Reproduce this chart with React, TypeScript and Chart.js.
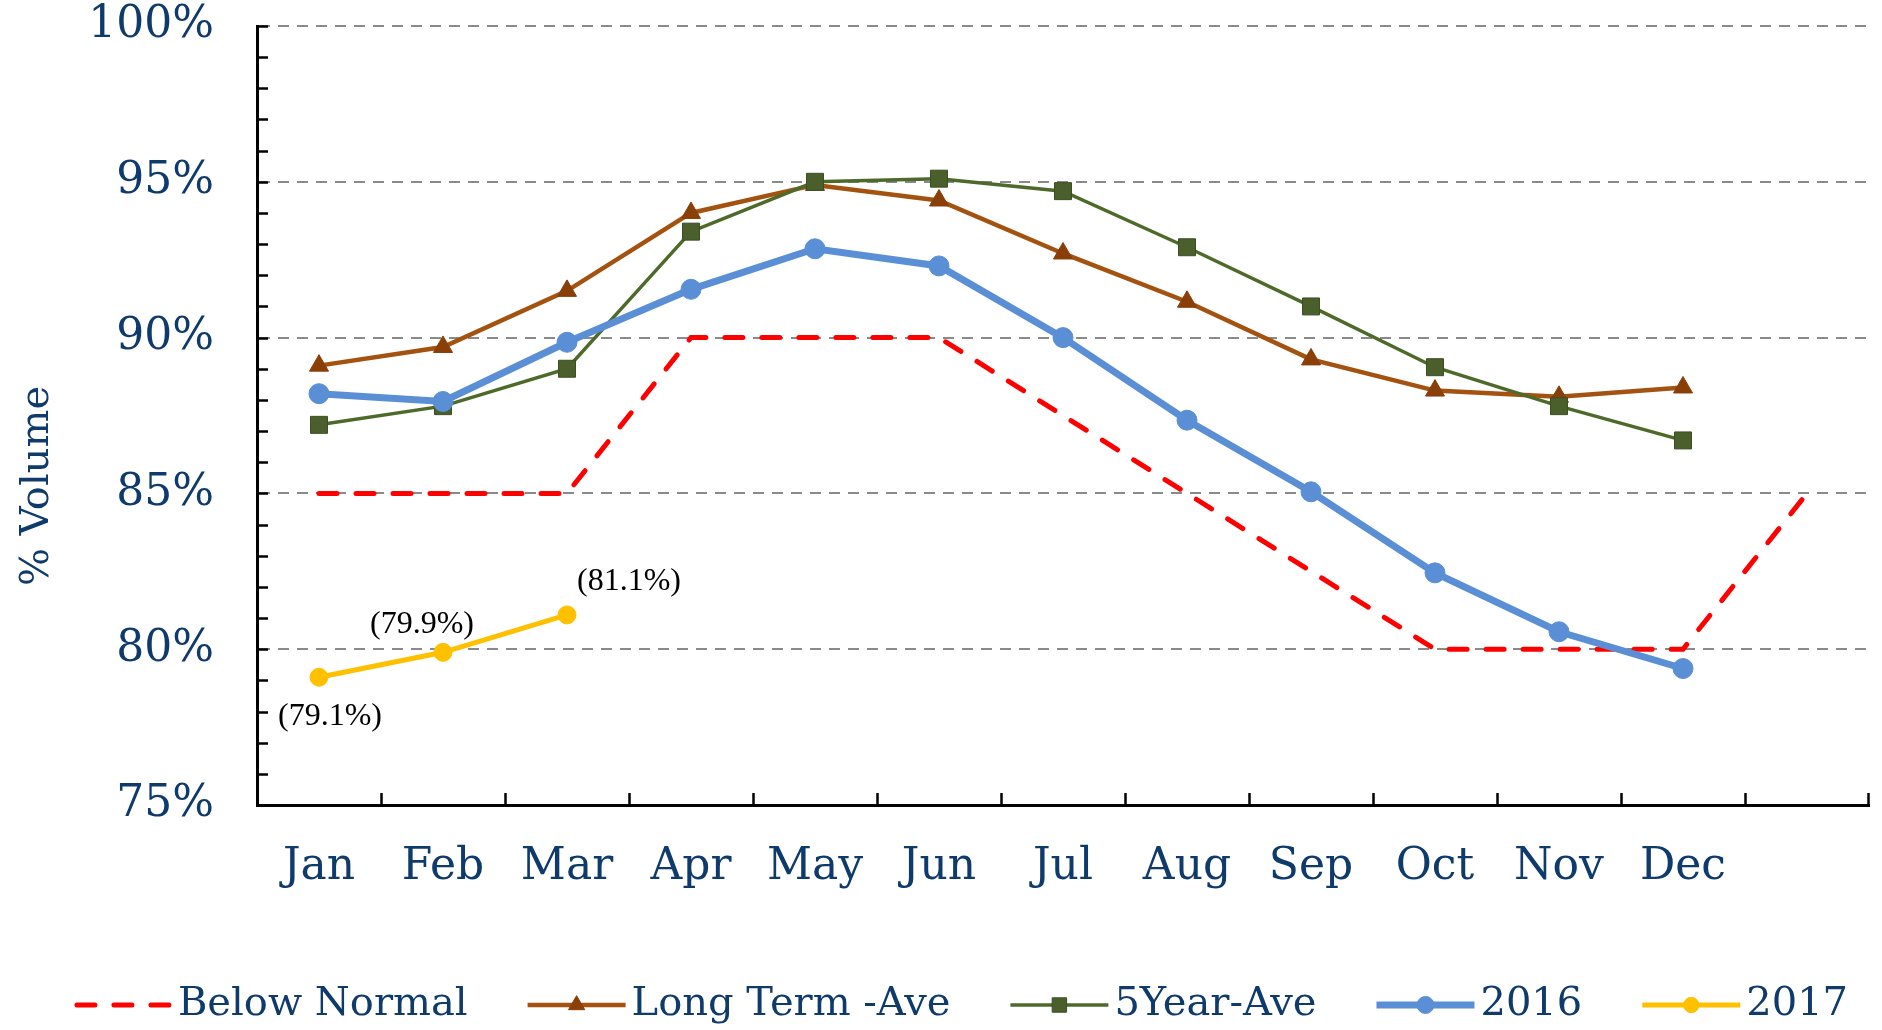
import React, { useEffect, useRef } from 'react';
import { Chart, registerables } from 'chart.js';
import { drawPoint } from 'chart.js/helpers';

Chart.register(...registerables);

const W = 1882;
const H = 1030;

const months = ['Jan', 'Feb', 'Mar', 'Apr', 'May', 'Jun', 'Jul', 'Aug', 'Sep', 'Oct', 'Nov', 'Dec', ''];
const belowNormal = [85, 85, 85, 90, 90, 90, 87.5, 85, 82.5, 80, 80, 80, 85];
const longTermAve = [89.1, 89.7, 91.5, 94.0, 94.9, 94.4, 92.7, 91.15, 89.3, 88.3, 88.1, 88.4];
const fiveYearAve = [87.2, 87.8, 89.0, 93.4, 95.0, 95.1, 94.7, 92.9, 91.0, 89.05, 87.8, 86.7];
const y2016 = [88.2, 87.95, 89.85, 91.55, 92.85, 92.3, 90.0, 87.35, 85.05, 82.45, 80.56, 79.38];
const y2017 = [79.1, 79.9, 81.1];
const seriesNames = ['Below Normal', 'Long Term -Ave', '5Year-Ave', '2016', '2017'];
const yAxisTitle = '% Volume';
const yMin = 75;
const yMax = 100;
const yStep = 5;

const NAVY = '#0E3A6C';
const SERIF = "'DejaVu Serif', serif";

// offsets of the 2017 value labels relative to their points
const labelOffsets = [
  [11, 39],
  [-21, -28],
  [62, -33],
];

const decorPlugin = {
  id: 'decor',
  afterDraw(chart: any) {
    const { ctx, chartArea, scales } = chart;
    const x = scales.x;
    const y = scales.y;
    ctx.save();
    // inward minor ticks on y axis
    ctx.strokeStyle = '#000';
    ctx.lineWidth = 2.5;
    for (let v = yMin; v <= yMax; v += 1) {
      const py = Math.round(y.getPixelForValue(v)) + 0.5;
      ctx.beginPath();
      ctx.moveTo(chartArea.left, py);
      ctx.lineTo(chartArea.left + 11, py);
      ctx.stroke();
    }
    // inward ticks on x axis at category boundaries
    const n = chart.data.labels.length;
    for (let i = 1; i <= n; i++) {
      const px = i < n ? (x.getPixelForValue(i - 1) + x.getPixelForValue(i)) / 2 : chartArea.right - 1;
      ctx.beginPath();
      ctx.moveTo(Math.round(px) + 0.5, chartArea.bottom);
      ctx.lineTo(Math.round(px) + 0.5, chartArea.bottom - 12);
      ctx.stroke();
    }
    // y axis title
    ctx.save();
    ctx.translate(38, 486);
    ctx.rotate(-Math.PI / 2);
    ctx.fillStyle = NAVY;
    ctx.font = `40px ${SERIF}`;
    ctx.textAlign = 'center';
    ctx.textBaseline = 'middle';
    ctx.fillText(yAxisTitle, 0, 0);
    ctx.restore();

    // 2017 value labels
    const meta = chart.getDatasetMeta(4);
    ctx.fillStyle = '#000';
    ctx.font = "32px 'Liberation Serif', serif";
    ctx.textAlign = 'center';
    ctx.textBaseline = 'middle';
    meta.data.forEach((pt: any, i: number) => {
      const v = chart.data.datasets[4].data[i];
      const off = labelOffsets[i] || [0, -30];
      ctx.fillText(`(${Number(v).toFixed(1)}%)`, pt.x + off[0], pt.y + off[1]);
    });

    // legend
    const ds = chart.data.datasets;
    ctx.font = `40px ${SERIF}`;
    const symW = 98;
    const symGap = 6;
    const itemGap = 60;
    const widths = ds.map((d: any) => symW + symGap + ctx.measureText(d.label).width);
    const total = widths.reduce((a: number, b: number) => a + b, 0) + itemGap * (ds.length - 1);
    let cx = chart.width / 2 + 20 - total / 2;
    const ly = chart.height - 25;
    ds.forEach((d: any, i: number) => {
      ctx.save();
      ctx.strokeStyle = d.borderColor;
      ctx.lineWidth = d.borderWidth;
      ctx.lineCap = d.borderCapStyle || 'butt';
      ctx.setLineDash(d.borderDash || []);
      ctx.beginPath();
      ctx.moveTo(cx + (d.borderDash ? 3 : 0), ly);
      ctx.lineTo(cx + symW, ly);
      ctx.stroke();
      ctx.setLineDash([]);
      if (d.pointRadius > 0) {
        ctx.fillStyle = d.pointBackgroundColor;
        ctx.strokeStyle = d.pointBorderColor;
        ctx.lineWidth = d.pointBorderWidth;
        drawPoint(ctx, { pointStyle: d.pointStyle, radius: d.pointRadius * 0.85, borderWidth: d.pointBorderWidth, rotation: 0 } as any, cx + symW / 2, ly);
      }
      ctx.restore();
      ctx.fillStyle = NAVY;
      ctx.textAlign = 'left';
      ctx.textBaseline = 'middle';
      ctx.font = `40px ${SERIF}`;
      ctx.fillText(d.label, cx + symW + symGap, ly);
      cx += widths[i] + itemGap;
    });
    ctx.restore();
  },
};

export default function App() {
  const ref = useRef<HTMLCanvasElement>(null);
  useEffect(() => {
    const canvas = ref.current!;
    const chart = new Chart(canvas, {
      type: 'line',
      data: {
        labels: months,
        datasets: [
          {
            label: seriesNames[0],
            data: belowNormal,
            borderColor: '#FF0000',
            borderWidth: 5,
            borderDash: [18, 19],
            borderCapStyle: 'round',
            pointRadius: 0,
            order: 4,
          },
          {
            label: seriesNames[1],
            data: longTermAve,
            borderColor: '#A3520F',
            borderWidth: 4.5,
            pointStyle: 'triangle',
            pointRadius: 11,
            pointBackgroundColor: '#8A3E08',
            pointBorderColor: '#8A3E08',
            pointBorderWidth: 1,
            order: 3,
          },
          {
            label: seriesNames[2],
            data: fiveYearAve,
            borderColor: '#4E6A2A',
            borderWidth: 3.5,
            pointStyle: 'rect',
            pointRadius: 12,
            pointBackgroundColor: '#4A5F2B',
            pointBorderColor: '#3C4F22',
            pointBorderWidth: 1,
            order: 2,
          },
          {
            label: seriesNames[3],
            data: y2016,
            borderColor: '#5A8FD6',
            borderWidth: 7,
            pointStyle: 'circle',
            pointRadius: 10,
            pointBackgroundColor: '#5A8FD6',
            pointBorderColor: '#5A8FD6',
            pointBorderWidth: 1,
            order: 1,
          },
          {
            label: seriesNames[4],
            data: y2017,
            borderColor: '#FFC000',
            borderWidth: 5,
            pointStyle: 'circle',
            pointRadius: 9,
            pointBackgroundColor: '#FFC000',
            pointBorderColor: '#FFC000',
            pointBorderWidth: 1,
            order: 0,
          },
        ] as any,
      },
      options: {
        responsive: false,
        animation: false,
        devicePixelRatio: 1,
        layout: { padding: { top: 26, right: 2, left: 0, bottom: 0 } },
        elements: { line: { tension: 0 } },
        plugins: {
          legend: { display: false },
          tooltip: { enabled: false },
        },
        scales: {
          x: {
            type: 'category',
            offset: true,
            grid: { display: false, offset: true },
            border: { display: true, color: '#000', width: 3 },
            ticks: {
              color: NAVY,
              font: { family: SERIF, size: 44 },
              padding: 28,
              maxRotation: 0,
              autoSkip: false,
            },
            afterFit: (s: any) => {
              s.height = 225;
              s.paddingLeft = 0;
              s.paddingRight = 0;
            },
          },
          y: {
            min: yMin,
            max: yMax,
            grid: { color: '#8A8A8A', lineWidth: 2, drawTicks: false },
            border: { display: true, color: '#000', width: 3, dash: [11, 8] },
            ticks: {
              stepSize: yStep,
              color: NAVY,
              font: { family: SERIF, size: 44 },
              padding: 43,
              callback: (v: any) => `${v}%`,
            },
            afterFit: (s: any) => {
              s.width = 257;
              s.paddingTop = 0;
              s.paddingBottom = 0;
            },
          },
        },
      },
      plugins: [decorPlugin],
    } as any);
    return () => chart.destroy();
  }, []);
  return (
    <div style={{ position: 'fixed', left: 0, top: 0, width: W, height: H, background: '#fff' }}>
      <canvas ref={ref} width={W} height={H} style={{ display: 'block', width: W, height: H }} />
    </div>
  );
}
